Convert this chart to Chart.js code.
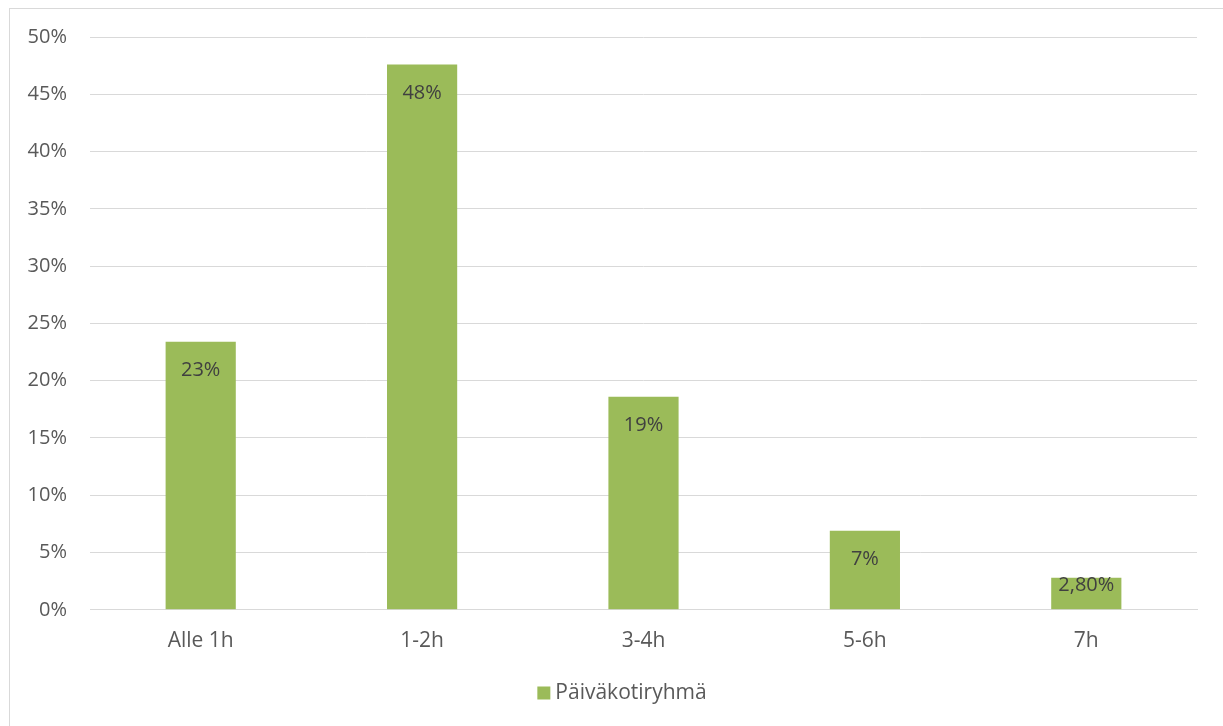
<!DOCTYPE html>
<html>
<head>
<meta charset="utf-8">
<script src="https://cdn.jsdelivr.net/npm/chart.js@4/dist/chart.umd.min.js"></script>
<style>
  body { margin: 0; background: #fff; }
  #wrap { width: 1223px; height: 726px; position: relative; }
</style>
</head>
<body>
<div id="wrap"><canvas id="chart" width="1223" height="726"></canvas></div>
<script>
const categories = ["Alle 1h", "1-2h", "3-4h", "5-6h", "7h"];
const values = [23.4, 47.6, 18.6, 6.9, 2.8];
const valueLabels = ["23%", "48%", "19%", "7%", "2,80%"];
const seriesName = "Päiväkotiryhmä";

const FONT = "'Open Sans', sans-serif";

// frame around the whole chart, like the office export
const framePlugin = {
    id: "frame",
    beforeDraw(chart) {
        const ctx = chart.ctx;
        ctx.save();
        ctx.fillStyle = "#fff";
        ctx.fillRect(0, 0, chart.width, chart.height);
        ctx.strokeStyle = "#D9D9D9";
        ctx.lineWidth = 1;
        ctx.strokeRect(9.5, 8.5, chart.width + 10, chart.height + 10);
        ctx.restore();
    }
};

// value labels inside the top of the bars
const labelPlugin = {
    id: "barLabels",
    afterDatasetsDraw(chart) {
        const ctx = chart.ctx;
        const meta = chart.getDatasetMeta(0);
        const bottom = chart.scales.y.getPixelForValue(0);
        ctx.save();
        ctx.font = "20px " + FONT;
        ctx.fillStyle = "#404040";
        ctx.textAlign = "center";
        ctx.textBaseline = "middle";
        meta.data.forEach((bar, i) => {
            var y = Math.min(bar.y + 29, bottom - 25);
            ctx.fillText(valueLabels[i], bar.x, y);
        });
        ctx.restore();
    }
};

// legend drawn by hand so it sits where the original one does
const legendPlugin = {
    id: "bottomLegend",
    afterDraw(chart) {
        const ctx = chart.ctx;
        const ds = chart.data.datasets[0];
        ctx.save();
        ctx.font = "21px " + FONT;
        const w = 13 + 5 + ctx.measureText(ds.label).width;
        const x = 622 - w / 2;
        const y = 693;
        ctx.fillStyle = ds.backgroundColor;
        ctx.fillRect(x, y - 6.5, 13, 13);
        ctx.fillStyle = "#595959";
        ctx.textBaseline = "middle";
        ctx.fillText(ds.label, x + 18, y);
        ctx.restore();
    }
};

const data = {
    labels: categories,
    datasets: [{
        label: seriesName,
        data: values,
        backgroundColor: "#9BBB59",
        borderWidth: 0,
        barPercentage: 0.317,
        categoryPercentage: 1
    }]
};

const config = {
    type: "bar",
    data: data,
    plugins: [framePlugin, labelPlugin, legendPlugin],
    options: {
        responsive: false,
        animation: false,
        layout: { padding: { left: 0, top: 37, right: 26, bottom: 61 } },
        plugins: {
            tooltip: { enabled: false },
            legend: { display: false }
        },
        scales: {
            x: {
                grid: { display: false },
                border: { display: true, color: "#D9D9D9" },
                ticks: {
                    font: { family: FONT, size: 21 },
                    color: "#595959",
                    padding: 11
                }
            },
            y: {
                min: 0,
                max: 50,
                afterFit(axis) { axis.width = 90; },
                grid: { color: "#D9D9D9", lineWidth: 1, drawTicks: false },
                border: { display: false },
                ticks: {
                    stepSize: 5,
                    font: { family: FONT, size: 20 },
                    color: "#595959",
                    padding: 23,
                    callback: v => v + "%"
                }
            }
        }
    }
};

new Chart(document.getElementById("chart"), config);
</script>
</body>
</html>
